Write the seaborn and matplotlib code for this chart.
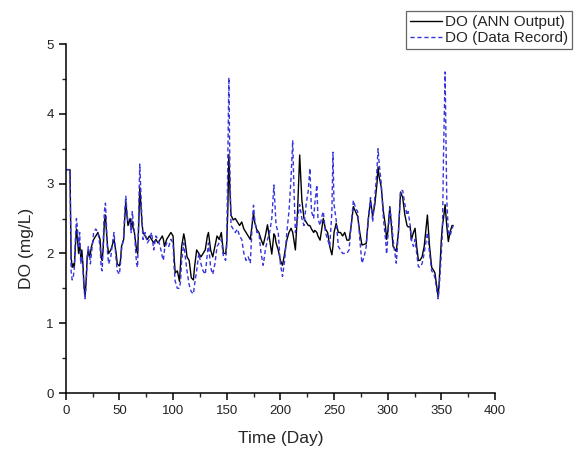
import pandas as pd
import seaborn as sns
import matplotlib
matplotlib.use("Agg")
import matplotlib.pyplot as plt
from matplotlib.ticker import MultipleLocator, AutoMinorLocator

# --- data (day, DO in mg/L) ---
days = [0, 4, 5, 6, 7, 8, 9, 10, 11, 12, 13, 14, 15, 16, 17, 18, 19, 20, 21, 22,
        23, 24, 26, 28, 30, 32, 33, 34, 35, 36, 37, 38, 39, 40, 42, 44, 45, 47, 48, 50,
        51, 52, 54, 55, 56, 57, 58, 60, 61, 62, 63, 64, 66, 67, 68, 69, 70, 71, 72, 74,
        76, 78, 80, 82, 84, 86, 88, 90, 91, 92, 94, 96, 98, 100, 101, 102, 104, 106, 107, 108,
        110, 111, 113, 115, 117, 119, 120, 122, 124, 126, 128, 130, 132, 133, 135, 137, 139, 141, 143, 145,
        147, 149, 150, 151, 152, 153, 154, 156, 158, 160, 162, 164, 166, 168, 170, 172, 174, 175, 176, 178,
        180, 182, 184, 186, 188, 190, 192, 194, 195, 196, 198, 200, 202, 204, 206, 208, 210, 211.5, 212.5, 214,
        216, 218, 220, 222, 224, 226, 227.5, 229, 231, 232, 234, 235, 237, 239, 240, 242, 244, 246, 248, 249,
        250, 252, 254, 256, 258, 260, 262, 264, 266, 268, 270, 272, 274, 276, 278, 280, 282, 284, 286, 288,
        290, 291, 292, 294, 296, 298, 299, 300, 302, 304, 305, 308, 310, 312, 314, 316, 318, 319, 321, 322,
        324, 325.5, 327, 328.6, 330, 332, 334, 336, 337, 339, 341, 343, 344, 346, 347, 348, 350, 351, 352, 353.5,
        355, 356.5, 358, 360, 361]

do_ann = [3.2, 3.2, 1.95, 1.8, 1.85, 1.8, 2.1, 2.35, 2.2, 2.0, 2.15, 1.95, 2.05, 1.85, 1.55, 1.38, 1.6, 1.95, 2.05, 1.95,
          2.0, 2.1, 2.2, 2.25, 2.3, 2.2, 1.95, 1.9, 2.1, 2.45, 2.55, 2.3, 2.1, 2.0, 2.05, 2.15, 2.2, 2.0, 1.85, 1.82,
          1.9, 2.1, 2.2, 2.5, 2.75, 2.55, 2.4, 2.5, 2.35, 2.45, 2.35, 2.3, 2.05, 2.0, 2.4, 2.95, 2.7, 2.45, 2.3, 2.25,
          2.2, 2.25, 2.2, 2.15, 2.2, 2.15, 2.2, 2.25, 2.2, 2.1, 2.2, 2.25, 2.3, 2.25, 1.95, 1.72, 1.75, 1.6, 1.85, 2.1,
          2.28, 2.2, 1.95, 1.9, 1.65, 1.62, 1.8, 2.05, 2.0, 1.95, 2.0, 2.05, 2.25, 2.3, 2.05, 1.95, 2.1, 2.25, 2.2, 2.3,
          2.0, 2.0, 2.15, 2.6, 3.42, 2.9, 2.55, 2.48, 2.5, 2.45, 2.4, 2.45, 2.35, 2.3, 2.25, 2.2, 2.45, 2.58, 2.45, 2.34,
          2.3, 2.2, 2.12, 2.25, 2.41, 2.2, 1.99, 2.28, 2.25, 2.15, 2.05, 1.9, 1.83, 2.0, 2.19, 2.3, 2.36, 2.3, 2.2, 2.05,
          2.6, 3.41, 2.77, 2.5, 2.45, 2.4, 2.4, 2.35, 2.3, 2.33, 2.3, 2.25, 2.19, 2.4, 2.5, 2.35, 2.3, 2.1, 1.98, 2.1,
          2.3, 2.43, 2.3, 2.3, 2.25, 2.3, 2.19, 2.19, 2.4, 2.67, 2.6, 2.53, 2.3, 2.12, 2.13, 2.14, 2.5, 2.76, 2.53, 2.7,
          3.0, 3.24, 3.1, 2.95, 2.6, 2.38, 2.2, 2.3, 2.67, 2.3, 2.1, 2.03, 2.3, 2.88, 2.8, 2.55, 2.4, 2.38, 2.38, 2.19,
          2.3, 2.36, 2.1, 1.9, 1.9, 1.95, 2.1, 2.4, 2.55, 2.1, 1.8, 1.75, 1.72, 1.5, 1.38, 1.6, 2.2, 2.4, 2.5, 2.7,
          2.4, 2.17, 2.3, 2.4, 2.4]

do_rec = [3.2, 3.2, 1.75, 1.62, 1.65, 1.8, 2.2, 2.5, 2.35, 2.1, 2.3, 1.85, 1.95, 1.8, 1.5, 1.35, 1.55, 1.9, 2.1, 2.0,
          1.85, 2.0, 2.3, 2.35, 2.3, 2.1, 1.8, 1.75, 2.2, 2.6, 2.72, 2.4, 2.0, 1.85, 1.95, 2.2, 2.3, 1.9, 1.75, 1.7,
          1.85, 2.05, 2.25, 2.6, 2.82, 2.6, 2.45, 2.45, 2.3, 2.6, 2.45, 2.3, 1.85, 1.8, 2.6, 3.28, 2.9, 2.5, 2.2, 2.3,
          2.15, 2.2, 2.3, 2.05, 2.25, 2.2, 2.1, 1.95, 1.9, 2.05, 2.15, 2.1, 2.2, 2.15, 1.8, 1.6, 1.5, 1.5, 1.6, 1.9,
          2.15, 2.0, 1.75, 1.55, 1.45, 1.42, 1.55, 1.75, 2.0, 1.85, 1.75, 1.7, 2.0, 2.15, 1.8, 1.7, 1.85, 2.1, 2.15, 2.2,
          1.95, 1.9, 2.1, 3.3, 4.52, 3.2, 2.4, 2.35, 2.3, 2.35, 2.25, 2.2, 2.0, 1.9, 1.95, 1.86, 2.5, 2.69, 2.5, 2.3,
          2.3, 2.0, 1.83, 2.05, 2.2, 2.3, 2.5, 2.98, 2.7, 2.4, 2.3, 1.85, 1.67, 1.9, 2.3, 2.6, 3.1, 3.62, 3.0, 2.3,
          2.5, 2.7, 2.5, 2.4, 2.7, 2.9, 3.22, 2.6, 2.5, 2.7, 2.98, 2.5, 2.4, 2.55, 2.6, 2.3, 2.2, 2.1, 2.6, 3.45,
          2.7, 2.48, 2.1, 2.05, 2.0, 2.0, 2.0, 2.05, 2.4, 2.76, 2.65, 2.6, 2.2, 1.86, 1.95, 2.1, 2.5, 2.8, 2.45, 2.8,
          3.2, 3.5, 3.3, 3.0, 2.5, 2.2, 1.99, 2.2, 2.65, 2.4, 2.2, 1.86, 2.3, 2.9, 2.9, 2.7, 2.55, 2.6, 2.4, 2.2,
          2.1, 2.2, 2.0, 1.81, 1.8, 1.85, 2.0, 2.2, 2.3, 2.0, 1.75, 1.7, 1.65, 1.45, 1.35, 1.5, 2.0, 2.3, 3.4, 4.6,
          2.8, 2.3, 2.25, 2.35, 2.4]

df = pd.DataFrame({"day": days, "ann": do_ann, "rec": do_rec})

sns.set_style("ticks")
plt.rcParams["font.family"] = ["Liberation Sans", "DejaVu Sans"]

fig = plt.figure(figsize=(5.75, 4.51), dpi=100)
ax = fig.add_axes([0.1143, 0.1286, 0.7466, 0.7738])

sns.lineplot(data=df, x="day", y="ann", ax=ax, color="black", linewidth=1.0,
             label="DO (ANN Output)")
sns.lineplot(data=df, x="day", y="rec", ax=ax, color="#3535de", linewidth=1.0,
             linestyle=(0, (3, 2)), label="DO (Data Record)")

ax.set_xlim(0, 400)
ax.set_ylim(0, 5)
ax.xaxis.set_major_locator(MultipleLocator(50))
ax.yaxis.set_major_locator(MultipleLocator(1))
ax.xaxis.set_minor_locator(AutoMinorLocator(2))
ax.yaxis.set_minor_locator(AutoMinorLocator(2))
ax.tick_params(which="major", direction="out", length=5, width=1.1, labelsize=9.5,
               colors="black", labelcolor="#222222")
ax.tick_params(which="minor", direction="out", length=3, width=1.0)
sns.despine(ax=ax)
for s in ("left", "bottom"):
    ax.spines[s].set_linewidth(1.1)
    ax.spines[s].set_color("black")

ax.set_xlabel("Time (Day)", fontsize=12.5)
ax.set_ylabel("DO (mg/L)", fontsize=12.5)
ax.xaxis.set_label_coords(0.5, -0.11)
ax.yaxis.set_label_coords(-0.075, 0.415)

ax.get_legend().remove()
handles, labels = ax.get_legend_handles_labels()
leg = fig.legend(handles, labels, loc="upper right", bbox_to_anchor=(0.995, 0.975),
                 fontsize=11, frameon=True, fancybox=False, framealpha=1,
                 edgecolor="#666666", handlelength=2.1, handletextpad=0.2,
                 borderpad=0.25, labelspacing=0.15, borderaxespad=0)
leg.get_frame().set_linewidth(0.9)

fig.savefig("out.png", dpi=100)
